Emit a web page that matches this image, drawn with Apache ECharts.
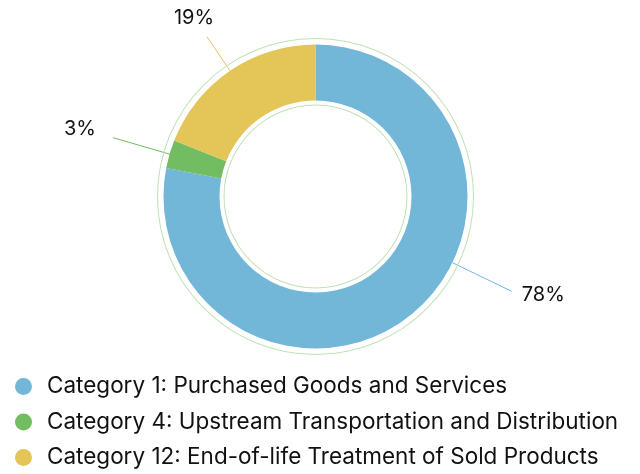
<!DOCTYPE html>
<html>
<head>
<meta charset="utf-8">
<script src="https://cdn.jsdelivr.net/npm/echarts@6/dist/echarts.min.js"></script>
<style>
  html, body { margin: 0; padding: 0; background: #fff; }
  #chart { width: 640px; height: 474px; }
</style>
</head>
<body>
<div id="chart"></div>
<script>
const categories = [
  "Category 1: Purchased Goods and Services",
  "Category 4: Upstream Transportation and Distribution",
  "Category 12: End-of-life Treatment of Sold Products"
];
const shares = [78, 3, 19];
const colors = ["#72b6d8", "#72bd61", "#e3c558"];

const cx = 315.5;
const cy = 196.5;
const outerR = 152;
const font = "Inter, 'Liberation Sans', Arial, sans-serif";

// how each label is pulled away from the ring
const labelTweak = [
  { turn: -24.6, len: 66, dx: 10, dy: 4, align: "left" },
  { turn: 0, len: 59, dx: -17, dy: -9, align: "right" },
  { turn: 0, len: 41, dx: -13, dy: -19, align: "center" }
];

let chart = echarts.init(document.getElementById("chart"));

chart.setOption({
  animation: false,
  color: colors,
  legend: {
    orient: "vertical",
    left: 15,
    top: 375,
    padding: 0,
    icon: "circle",
    itemWidth: 17,
    itemHeight: 17,
    itemGap: 12.5,
    textStyle: {
      fontFamily: font,
      fontSize: 22.5,
      lineHeight: 20,
      color: "#111",
      padding: [0, 0, 0, 10]
    },
    data: categories
  },
  series: [
    {
      // thin outer guide ring
      type: "pie",
      silent: true,
      center: [cx, cy],
      radius: [157.5, 158.5],
      label: { show: false },
      labelLine: { show: false },
      itemStyle: { color: "#bfe2b7" },
      data: [1]
    },
    {
      // thin inner guide ring
      type: "pie",
      silent: true,
      center: [cx, cy],
      radius: [91, 92],
      label: { show: false },
      labelLine: { show: false },
      itemStyle: { color: "#bfe2b7" },
      data: [1]
    },
    {
      type: "pie",
      center: [cx, cy],
      radius: [96, outerR],
      startAngle: 90,
      clockwise: true,
      label: {
        show: true,
        position: "outside",
        formatter: "{c}%",
        fontFamily: font,
        fontSize: 20,
        color: "#111"
      },
      labelLine: {
        show: true,
        length: 20,
        length2: 0,
        lineStyle: { width: 1 }
      },
      labelLayout: function (p) {
        const t = labelTweak[p.dataIndex];
        const start = p.labelLinePoints[0];
        let a = Math.atan2(start[1] - cy, start[0] - cx) + t.turn * Math.PI / 180;
        const x0 = cx + outerR * Math.cos(a);
        const y0 = cy + outerR * Math.sin(a);
        const x1 = cx + (outerR + t.len) * Math.cos(a);
        const y1 = cy + (outerR + t.len) * Math.sin(a);
        return {
          x: x1 + t.dx,
          y: y1 + t.dy,
          align: t.align,
          verticalAlign: "middle",
          labelLinePoints: [[x0, y0], [x1, y1], [x1, y1]]
        };
      },
      data: categories.map((name, i) => ({ name: name, value: shares[i] }))
    }
  ]
});
</script>
</body>
</html>
